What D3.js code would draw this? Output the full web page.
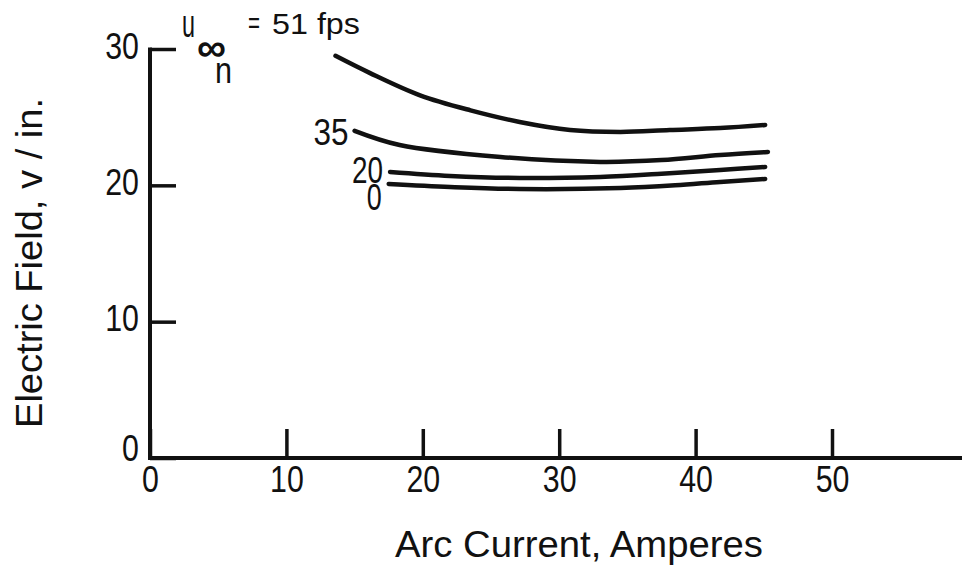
<!DOCTYPE html>
<html>
<head>
<meta charset="utf-8">
<script src="https://cdn.jsdelivr.net/npm/d3@7"></script>
<style>
  html, body { margin: 0; padding: 0; background: #fff; }
  svg text { font-family: "Liberation Sans", "Arimo", Arial, sans-serif; fill: #111; }
</style>
</head>
<body>
<svg id="chart" width="962" height="570"></svg>
<script>
// Arc current (A) vs electric field (v/in.) for several flow velocities
const seriesNames = ["51", "35", "20", "0"];
const current51 = [13.6, 16.1, 19.8, 23.5, 27.1, 30.8, 34.5, 38.1, 41.8, 45.1];
const field51   = [29.5, 28.25, 26.6, 25.5, 24.65, 24.06, 23.92, 24.06, 24.2, 24.43];
const current35 = [15.0, 18.3, 25.7, 33.0, 37.5, 41.8, 45.3];
const field35   = [24.0, 22.96, 22.08, 21.72, 21.85, 22.23, 22.45];
const current20 = [17.6, 22.0, 27.1, 33.0, 37.5, 41.8, 45.1];
const field20   = [20.98, 20.69, 20.54, 20.62, 20.85, 21.13, 21.35];
const current0  = [17.5, 22.0, 27.1, 34.5, 38.5, 41.8, 45.1];
const field0    = [20.1, 19.88, 19.73, 19.8, 20.0, 20.25, 20.47];
const xTicks = [0, 10, 20, 30, 40, 50];
const yTicks = [0, 10, 20, 30];

const svg = d3.select("#chart");
const x = d3.scaleLinear().domain([0, 50]).range([150, 832]);
const y = d3.scaleLinear().domain([0, 30]).range([458, 49]);

const ink = "#111";
const narrow = 0.82;   // horizontal squeeze for the condensed lettering

// x axis: ticks point up into the plot, line runs to the right edge
const xAxis = d3.axisBottom(x).tickValues(xTicks).tickSize(-29).tickPadding(0).tickSizeOuter(0);
const gx = svg.append("g").attr("transform", `translate(0,${y(0)})`).call(xAxis);
gx.select(".domain").remove();
gx.selectAll(".tick line").attr("stroke", ink).attr("stroke-width", 3.5);
gx.selectAll(".tick text")
  .attr("font-size", 37).attr("fill", ink)
  .attr("y", 34).attr("dy", null)
  .attr("transform", `scale(${narrow},1)`);
svg.append("line").attr("x1", x(0) - 2).attr("x2", 962).attr("y1", y(0)).attr("y2", y(0))
  .attr("stroke", ink).attr("stroke-width", 4);

// y axis: ticks point right into the plot
const yAxis = d3.axisLeft(y).tickValues(yTicks).tickSize(-26).tickPadding(0).tickSizeOuter(0);
const gy = svg.append("g").attr("transform", `translate(${x(0)},0)`).call(yAxis);
gy.select(".domain").remove();
gy.selectAll(".tick line").attr("stroke", ink).attr("stroke-width", 3.5);
gy.selectAll(".tick text")
  .attr("font-size", 37).attr("fill", ink)
  .attr("x", -11 / narrow).attr("dy", null)
  .attr("y", d => d === 0 ? 2 : 9)
  .attr("transform", `scale(${narrow},1)`);
svg.append("line").attr("x1", x(0)).attr("x2", x(0)).attr("y1", y(0) + 2).attr("y2", y(30) - 1.5)
  .attr("stroke", ink).attr("stroke-width", 4);

// curves
const line = d3.line().x(d => x(d[0])).y(d => y(d[1])).curve(d3.curveCatmullRom.alpha(0.5));
const series = [
  [current51, field51], [current35, field35], [current20, field20], [current0, field0]
];
series.forEach(([cs, fs]) => {
  svg.append("path")
    .datum(cs.map((c, i) => [c, fs[i]]))
    .attr("d", line)
    .attr("fill", "none")
    .attr("stroke", ink)
    .attr("stroke-width", 4.5)
    .attr("stroke-linecap", "round");
});

// squeezed text helper: anchored by its left or right edge
function label(px, py, size, str, width, anchor) {
  const left = anchor === "end" ? px - width : px;
  return svg.append("text")
    .attr("x", left).attr("y", py)
    .attr("font-size", size)
    .attr("textLength", width).attr("lengthAdjust", "spacingAndGlyphs")
    .text(str);
}

// curve labels at the start of each line
label(x(current35[0]) - 6, y(field35[0]) + 14, 37, seriesNames[1], 35, "end");
label(x(current20[0]) - 7, y(field20[0]) + 11, 37, seriesNames[2], 31, "end");
label(x(current0[0]) - 7, y(field0[0]) + 26, 37, seriesNames[3], 15, "end");

// velocity heading: u with infinity and n below
label(182, 37, 38, "u", 13);
svg.append("text").attr("x", 197).attr("y", 61).attr("font-size", 40)
  .attr("font-weight", "bold").attr("textLength", 29).attr("lengthAdjust", "spacingAndGlyphs")
  .text("\u221E");
label(215, 83, 36, "n", 17);
label(248, 33, 30, "=", 12);
label(272, 34, 30, seriesNames[0] + " fps", 88);

// axis titles
label(395, 557, 36, "Arc Current, Amperes", 368);
svg.append("text").attr("transform", "translate(42,428) rotate(-90)")
  .attr("font-size", 36).attr("textLength", 330).attr("lengthAdjust", "spacingAndGlyphs")
  .text("Electric Field,  v / in.");
</script>
</body>
</html>
